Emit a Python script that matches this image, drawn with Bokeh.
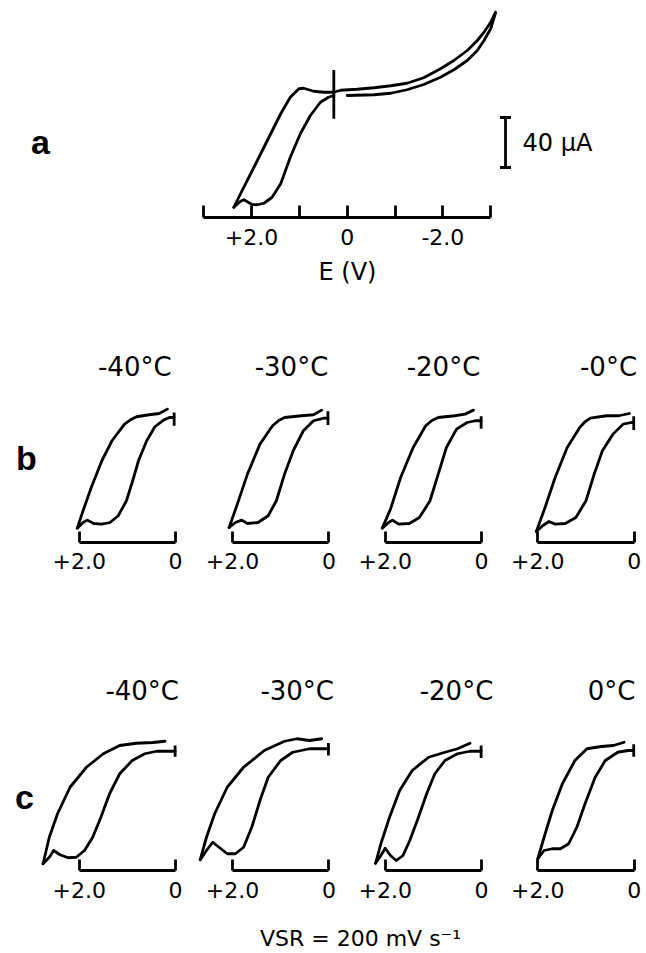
from bokeh.plotting import figure
from bokeh.models import Range1d, FixedTicker, LinearAxis, Label
from bokeh.layouts import column, row
from bokeh.embed import file_html
from bokeh.resources import INLINE

# ---------------- data (E in V, I in µA) ----------------
# Panel a: full cyclic voltammogram
A_FWD_E = [2.37, 2.23, 1.95, 1.67, 1.39, 1.19, 1.01, 0.91, 0.70, 0.49, 0.28, 0.14,
           -0.21, -0.56, -0.91, -1.25, -1.60, -1.95, -2.23, -2.51, -2.72, -2.86, -3.00, -3.10]
A_FWD_I = [8.2, 19.0, 40.2, 61.6, 83.0, 96.2, 103.0, 103.4, 101.0, 100.2, 100.2, 101.8,
           102.6, 103.8, 105.4, 107.4, 111.8, 119.0, 125.6, 133.6, 141.6, 148.2, 156.2, 164.2]
A_REV_E = [2.37, 2.23, 2.16, 2.08, 1.99, 1.88, 1.74, 1.57, 1.39, 1.19, 0.98, 0.77, 0.56, 0.39, 0.28]
A_REV_I = [8.2, 13.0, 14.2, 12.4, 10.4, 10.2, 11.4, 16.2, 27.0, 48.2, 67.0, 81.6, 92.2, 96.2, 97.6]
A_RET_E = [0.0, -0.56, -0.91, -1.25, -1.60, -1.95, -2.23, -2.51, -2.72, -2.86, -3.00, -3.10]
A_RET_I = [97.6, 98.2, 99.4, 102.2, 106.4, 112.2, 118.2, 125.6, 133.6, 141.6, 151.0, 163.6]
A_MARKER_E = 0.28
A_MARKER_I = [79.0, 118.0]
A_TICKS = [3, 2, 1, 0, -1, -2, -3]
A_TICK_LABELS = ["", "+2.0", "", "0", "", "-2.0", ""]
X_LABEL = "E (V)"
SCALE_BAR_UA = 40
SCALE_BAR_LABEL = "40 µA"

# Panels b (four temperatures)
B_TEMPS = ["-40°C", "-30°C", "-20°C", "-0°C"]
B_UP_E = [[2.04, 1.92, 1.75, 1.53, 1.32, 1.06, 0.93, 0.81, 0.55, 0.34, 0.17],
          [2.07, 1.90, 1.69, 1.43, 1.17, 1.04, 0.92, 0.57, 0.32, 0.15],
          [2.06, 1.89, 1.68, 1.42, 1.16, 1.03, 0.90, 0.56, 0.34, 0.17],
          [2.03, 1.85, 1.64, 1.39, 1.13, 1.02, 0.91, 0.57, 0.32, 0.10]]
B_UP_I = [[11.5, 25.4, 44.0, 65.4, 81.4, 94.7, 98.3, 100.6, 102.2, 103.2, 106.7],
          [12.0, 30.7, 54.7, 78.7, 93.4, 97.6, 100.0, 101.4, 102.2, 105.9],
          [11.5, 26.7, 52.0, 76.0, 93.4, 97.6, 100.0, 101.4, 102.7, 105.9],
          [8.8, 28.0, 52.0, 76.0, 92.0, 96.6, 99.5, 101.4, 101.4, 103.2]]
B_LO_E = [[2.04, 1.92, 1.83, 1.70, 1.53, 1.36, 1.19, 1.02, 0.89, 0.77, 0.60, 0.43, 0.25, 0.13, 0.03],
          [2.07, 1.94, 1.81, 1.69, 1.47, 1.26, 1.09, 0.92, 0.74, 0.53, 0.32, 0.10, 0.02],
          [2.06, 1.93, 1.85, 1.72, 1.50, 1.29, 1.07, 0.90, 0.73, 0.52, 0.30, 0.13, 0.01],
          [2.03, 1.90, 1.77, 1.64, 1.43, 1.21, 1.00, 0.83, 0.66, 0.44, 0.23, 0.06, 0.01]]
B_LO_I = [[11.5, 16.0, 17.9, 15.2, 14.7, 16.0, 21.4, 33.4, 49.4, 65.4, 81.4, 92.6, 97.9, 100.0, 100.0],
          [12.0, 16.0, 17.9, 15.2, 16.0, 21.4, 33.4, 54.7, 73.4, 89.4, 97.4, 99.5, 99.5],
          [11.5, 16.0, 17.9, 14.7, 15.2, 20.0, 33.4, 54.7, 76.0, 90.7, 96.0, 97.4, 97.4],
          [8.8, 13.4, 16.8, 14.7, 15.2, 20.0, 33.4, 54.7, 73.4, 86.7, 94.7, 96.0, 96.0]]
B_MARK_I = [[93.4, 104.0], [94.0, 105.0], [91.0, 101.0], [90.0, 101.0]]

# Panels c (four temperatures)
C_TEMPS = ["-40°C", "-30°C", "-20°C", "0°C"]
C_UP_E = [[2.75, 2.62, 2.45, 2.19, 1.85, 1.50, 1.16, 0.82, 0.47, 0.22],
          [2.67, 2.54, 2.37, 2.11, 1.77, 1.34, 0.92, 0.66, 0.40, 0.15],
          [2.20, 2.09, 1.91, 1.70, 1.44, 1.10, 0.76, 0.50, 0.24],
          [2.00, 1.87, 1.70, 1.49, 1.23, 0.98, 0.68, 0.43, 0.21]]
C_UP_I = [[5.4, 26.6, 45.4, 66.6, 82.6, 93.4, 100.0, 101.8, 102.4, 103.4],
          [8.6, 26.6, 45.4, 66.6, 82.6, 96.0, 103.4, 105.4, 104.0, 105.4],
          [5.8, 21.4, 42.6, 64.0, 80.0, 90.6, 94.6, 97.4, 101.8],
          [9.4, 26.6, 48.0, 69.4, 88.0, 97.4, 99.2, 100.0, 102.6]]
C_LO_E = [[2.75, 2.62, 2.53, 2.40, 2.23, 2.06, 1.89, 1.72, 1.55, 1.37, 1.16, 0.90, 0.64, 0.39, 0.13, 0.01],
          [2.67, 2.54, 2.41, 2.28, 2.11, 1.94, 1.77, 1.60, 1.43, 1.26, 1.00, 0.75, 0.40, 0.01],
          [2.20, 2.09, 2.00, 1.89, 1.77, 1.63, 1.49, 1.31, 1.14, 0.97, 0.76, 0.50, 0.24, 0.01],
          [2.00, 1.87, 1.70, 1.53, 1.36, 1.19, 1.02, 0.81, 0.60, 0.34, 0.13, 0.01]]
C_LO_I = [[5.4, 10.6, 16.0, 12.6, 10.2, 10.6, 16.0, 26.6, 42.6, 61.4, 77.4, 88.0, 93.4, 95.4, 95.4, 95.4],
          [8.6, 16.0, 22.6, 18.6, 13.4, 13.4, 18.6, 34.6, 56.0, 74.6, 88.0, 94.6, 97.4, 97.4],
          [5.8, 12.0, 17.8, 12.0, 8.0, 12.0, 24.0, 42.6, 61.4, 77.4, 88.0, 93.4, 95.4, 95.4],
          [9.4, 16.0, 17.4, 17.4, 21.4, 34.6, 53.4, 74.6, 88.0, 94.6, 96.0, 96.0]]
C_MARK_I = [[91.0, 100.0], [92.0, 102.0], [90.0, 100.0], [91.0, 101.0]]

SMALL_TICKS = [2, 0]
SMALL_TICK_LABELS = ["+2.0", "0"]
FOOTNOTE = "VSR = 200 mV s⁻¹"

# ---------------- layout / style ----------------
FONT = "DejaVu Sans"
LETTER_FONT = "Liberation Sans"
W = 646
LW = 2.8
PX_PER_UA = 1.25
PX_PER_V_A = 47.83
PX_PER_V_S = 48.2
TICK_FS = "22px"


def base_fig(width, height, xr, y_top, bottom, right=0):
    p = figure(width=width, height=height, output_backend="svg", toolbar_location=None,
               x_axis_type=None, y_axis_type=None,
               x_range=Range1d(*xr), y_range=Range1d(0, y_top),
               min_border_left=0, min_border_right=right, min_border_top=0,
               min_border_bottom=bottom)
    p.outline_line_color = None
    p.background_fill_color = "white"
    p.border_fill_color = "white"
    return p


def style_axis(ax, tick_in, standoff):
    ax.axis_line_width = LW
    ax.axis_line_color = "black"
    ax.major_tick_line_width = LW
    ax.major_tick_line_color = "black"
    ax.major_tick_in = tick_in
    ax.major_tick_out = 0
    ax.minor_tick_in = 0
    ax.minor_tick_out = 0
    ax.major_label_text_font = FONT
    ax.major_label_text_font_size = TICK_FS
    ax.major_label_text_color = "black"
    ax.major_label_standoff = standoff


def curve(p, xs, ys):
    p.line(xs, ys, line_width=LW, line_color="black", line_join="round", line_cap="round")


def letter_label(x, y, text):
    return Label(x=x, y=y, text=text, text_align="center", text_baseline="middle",
                 text_font=LETTER_FONT, text_font_style="bold", text_font_size="34px",
                 text_color="black")


# ---- panel a (letter strip + voltammogram whose frame is centred on E = 0) ----
A_H, A_BOTTOM = 320, 103
A_LEFT_W = 52
A_MAIN_W = W - A_LEFT_W
A_RIGHT_BORDER = 4
A_ZERO_PX = 346.7 - A_LEFT_W            # px in main figure where E = 0
a_frame_w = A_MAIN_W - A_RIGHT_BORDER
a_frame_h = A_H - A_BOTTOM

# the letter strip shares the frame height of the main panel (frames are aligned in a row)
pa_left = base_fig(A_LEFT_W, A_H, (0, A_LEFT_W), a_frame_h, A_BOTTOM)
pa_left.add_layout(letter_label(40, a_frame_h - 141, "a"))

pa = base_fig(A_MAIN_W, A_H, (A_ZERO_PX / PX_PER_V_A, -(a_frame_w - A_ZERO_PX) / PX_PER_V_A),
              a_frame_h / PX_PER_UA, A_BOTTOM, right=A_RIGHT_BORDER)
ax_a = LinearAxis(ticker=FixedTicker(ticks=A_TICKS), bounds=(min(A_TICKS), max(A_TICKS)),
                  major_label_overrides=dict(zip(A_TICKS, A_TICK_LABELS)), axis_label=X_LABEL)
style_axis(ax_a, 12, 11)
ax_a.axis_label_text_font = FONT
ax_a.axis_label_text_font_size = "24px"
ax_a.axis_label_text_font_style = "normal"
ax_a.axis_label_text_color = "black"
ax_a.axis_label_standoff = 10
pa.add_layout(ax_a, "below")

curve(pa, A_FWD_E, A_FWD_I)
curve(pa, A_REV_E, A_REV_I)
curve(pa, A_RET_E, A_RET_I)
pa.segment(x0=[A_MARKER_E], y0=[A_MARKER_I[0]], x1=[A_MARKER_E], y1=[A_MARKER_I[1]],
           line_width=LW, line_color="black")

# scale bar
SB_E, SB_BASE = -3.31, 40.0
pa.segment(x0=[SB_E], y0=[SB_BASE], x1=[SB_E], y1=[SB_BASE + SCALE_BAR_UA],
           line_width=LW, line_color="black")
pa.scatter([SB_E, SB_E], [SB_BASE, SB_BASE + SCALE_BAR_UA], marker="dash", size=11,
           line_width=LW, line_color="black")
pa.add_layout(Label(x=SB_E - 17 / PX_PER_V_A, y=SB_BASE + SCALE_BAR_UA / 2, text=SCALE_BAR_LABEL,
                    text_align="left", text_baseline="middle", text_font=FONT,
                    text_font_size="24px", text_color="black"))

row_a = row(pa_left, pa)

# ---- small panels ----
WIDTHS = [190, 153, 157, 146]
E2_PX = [78.7, 42.0, 41.7, 37.3]       # px (within each figure) where E = +2.0


def small_row(temps, up_e, up_i, lo_e, lo_i, mark_i, height, bottom, standoff, temp_px, temp_y,
              letter, letter_px, letter_y):
    figs = []
    frame_h = height - bottom
    for k in range(4):
        w = WIDTHS[k]
        xr = (2 + E2_PX[k] / PX_PER_V_S, 2 - (w - E2_PX[k]) / PX_PER_V_S)
        p = base_fig(w, height, xr, frame_h / PX_PER_UA, bottom)
        ax = LinearAxis(ticker=FixedTicker(ticks=SMALL_TICKS), bounds=(0, 2),
                        major_label_overrides=dict(zip(SMALL_TICKS, SMALL_TICK_LABELS)))
        style_axis(ax, 11, standoff)
        p.add_layout(ax, "below")
        curve(p, up_e[k], up_i[k])
        curve(p, lo_e[k], lo_i[k])
        p.segment(x0=[lo_e[k][-1]], y0=[mark_i[k][0]], x1=[lo_e[k][-1]], y1=[mark_i[k][1]],
                  line_width=LW, line_color="black")
        p.add_layout(Label(x=2 - (temp_px[k] - E2_PX[k]) / PX_PER_V_S, y=temp_y, text=temps[k],
                           text_align="center", text_baseline="middle", text_font=FONT,
                           text_font_size="26px", text_color="black"))
        if k == 0:
            p.add_layout(letter_label(2 - (letter_px - E2_PX[0]) / PX_PER_V_S, letter_y, letter))
        figs.append(p)
    return row(*figs)


B_H, B_BOTTOM = 320, 98
C_H, C_BOTTOM = 270, 40
B_TEMP_PX = [134.3, 101.0, 100.0, 108.0]
C_TEMP_PX = [141.7, 106.7, 113.0, 111.0]

row_b = small_row(B_TEMPS, B_UP_E, B_UP_I, B_LO_E, B_LO_I, B_MARK_I, B_H, B_BOTTOM, 10,
                  B_TEMP_PX, 140.2, "b", 26.0, 67.6)
row_c = small_row(C_TEMPS, C_UP_E, C_UP_I, C_LO_E, C_LO_I, C_MARK_I, C_H, C_BOTTOM, 11,
                  C_TEMP_PX, 143.6, "c", 24.0, 59.2)

# ---- footer ----
F_H = 40
pf = base_fig(W, F_H, (0, W), F_H, 0)
pf.add_layout(Label(x=360, y=12, text=FOOTNOTE, text_align="center", text_baseline="middle",
                    text_font=FONT, text_font_size="22px", text_color="black"))

layout = column(row_a, row_b, row_c, pf)
open("out.html", "w", encoding="utf-8").write(file_html(layout, INLINE))
